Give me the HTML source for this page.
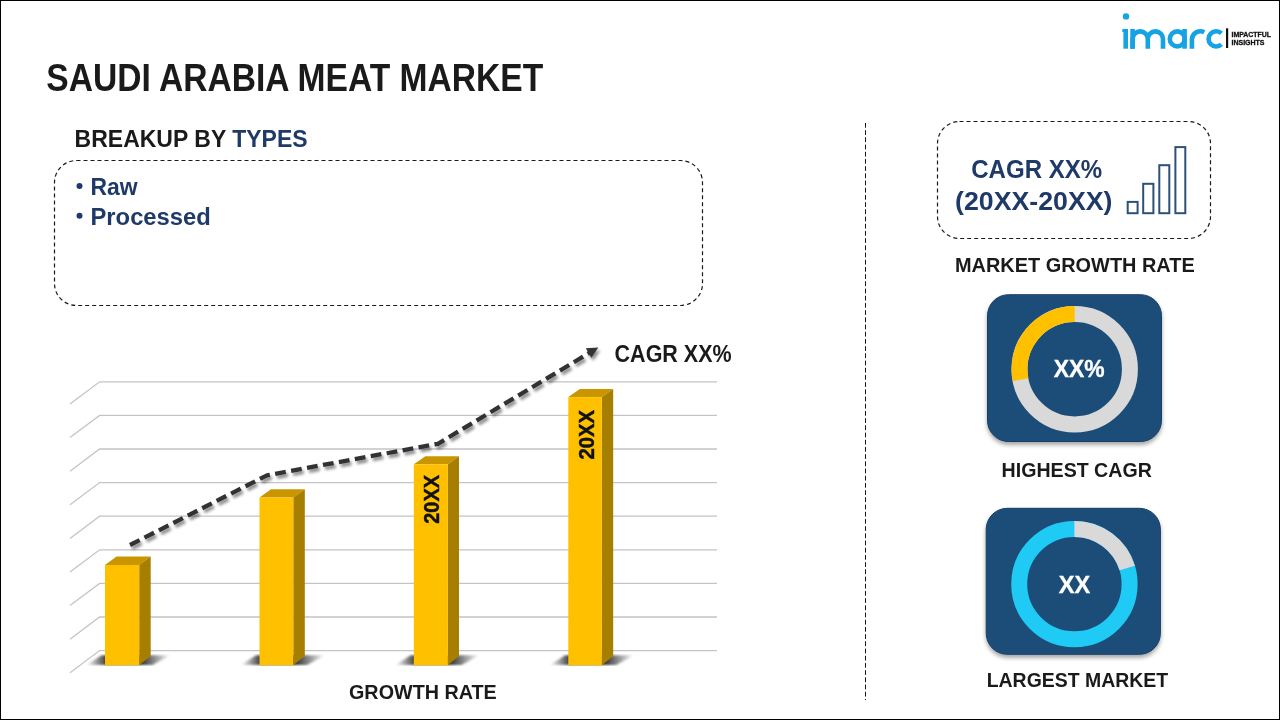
<!DOCTYPE html>
<html><head><meta charset="utf-8">
<style>
html,body{margin:0;padding:0;background:#fff;}
body{width:1280px;height:720px;overflow:hidden;position:relative;}
svg{position:absolute;left:0;top:0;display:block;will-change:transform;}
text{font-family:"Liberation Sans",sans-serif;font-weight:bold;}
</style></head>
<body>
<svg width="1280" height="720" viewBox="0 0 1280 720">
<defs>
  <filter id="lsh" x="-10%" y="-30%" width="130%" height="160%">
    <feGaussianBlur in="SourceAlpha" stdDeviation="1.8"/>
    <feOffset dx="1.5" dy="3" result="o"/>
    <feComponentTransfer><feFuncA type="linear" slope="0.45"/></feComponentTransfer>
    <feMerge><feMergeNode/><feMergeNode in="SourceGraphic"/></feMerge>
  </filter>
  <filter id="bsh" x="-20%" y="-20%" width="140%" height="150%">
    <feGaussianBlur in="SourceAlpha" stdDeviation="2"/>
    <feOffset dx="0" dy="3"/>
    <feComponentTransfer><feFuncA type="linear" slope="0.35"/></feComponentTransfer>
    <feMerge><feMergeNode/><feMergeNode in="SourceGraphic"/></feMerge>
  </filter>
  <filter id="blur1"><feGaussianBlur stdDeviation="1"/></filter>
  <linearGradient id="shg" x1="0" x2="1" y1="0" y2="0">
    <stop offset="0" stop-color="#303030" stop-opacity="0"/>
    <stop offset="0.25" stop-color="#303030" stop-opacity="1"/>
    <stop offset="0.65" stop-color="#303030" stop-opacity="1"/>
    <stop offset="1" stop-color="#303030" stop-opacity="0"/>
  </linearGradient>
</defs>

<!-- frame -->
<rect x="0.5" y="0.5" width="1279" height="719" fill="none" stroke="#000" stroke-width="1"/>

<!-- logo -->
<g fill="none" stroke="#16a3e3" stroke-width="4.6">
  <circle cx="1126" cy="16.4" r="3.2" fill="#16a3e3" stroke="none"/>
  <path d="M1125.7 29 V48.7"/>
  <path d="M1132.6 48.7 V39 A7.6 7.6 0 0 1 1147.8 39 V48.7 M1147.8 39 A7.6 7.6 0 0 1 1163 39 V48.7"/>
  <path d="M1132.6 48.7 V29"/>
  <circle cx="1177.3" cy="38.9" r="7.5"/>
  <path d="M1184.6 29 V48.7"/>
  <path d="M1191.9 48.7 V39 A8.6 8.6 0 0 1 1204.3 32.2"/>
  <path d="M1221.4 33.4 A7.6 7.6 0 1 0 1221.4 44.4"/>
</g>
<rect x="1122.3" y="29" width="4" height="3" fill="#16a3e3"/>
<rect x="1226" y="28.3" width="2.2" height="19.7" fill="#111"/>
<text x="1231.5" y="36.6" font-size="7" fill="#111" stroke="#111" stroke-width="0.3" textLength="39.5" lengthAdjust="spacingAndGlyphs">IMPACTFUL</text>
<text x="1231.5" y="44.7" font-size="7" fill="#111" stroke="#111" stroke-width="0.3" textLength="33" lengthAdjust="spacingAndGlyphs">INSIGHTS</text>

<!-- title -->
<text x="46.3" y="90.6" font-size="38" fill="#1a1a1a" textLength="497" lengthAdjust="spacingAndGlyphs">SAUDI ARABIA MEAT MARKET</text>

<!-- breakup -->
<text x="74.6" y="147.3" font-size="24.6" fill="#1a1a1a" textLength="233" lengthAdjust="spacingAndGlyphs">BREAKUP BY <tspan fill="#1f3a68">TYPES</tspan></text>
<rect x="54.5" y="160.5" width="648" height="145" rx="22" ry="22" fill="none" stroke="#1a1a1a" stroke-width="1.2" stroke-dasharray="4 3"/>
<circle cx="79.5" cy="185.9" r="3" fill="#1f3a68"/>
<circle cx="79.5" cy="215.8" r="3" fill="#1f3a68"/>
<text x="90.4" y="194.7" font-size="24.2" fill="#1f3a68" textLength="47.1" lengthAdjust="spacingAndGlyphs">Raw</text>
<text x="90.5" y="224.5" font-size="24.2" fill="#1f3a68" textLength="120.3" lengthAdjust="spacingAndGlyphs">Processed</text>

<!-- divider -->
<line x1="865.5" y1="123" x2="865.5" y2="700" stroke="#111" stroke-width="1" stroke-dasharray="4.7 2.5"/>

<!-- chart gridlines -->
<g stroke="#c4c4c4" stroke-width="1.3" fill="none">
  <path d="M70 404 L99.6 381.8 H717"/>
  <path d="M70 437.6 L99.6 415.4 H717"/>
  <path d="M70 471.2 L99.6 449 H717"/>
  <path d="M70 504.8 L99.6 482.6 H717"/>
  <path d="M70 538.4 L99.6 516.2 H717"/>
  <path d="M70 572 L99.6 549.8 H717"/>
  <path d="M70 605.6 L99.6 583.4 H717"/>
  <path d="M70 639.2 L99.6 617 H717"/>
  <path d="M70 672.8 L99.6 650.6 H717"/>
</g>

<!-- bar shadows -->
<g filter="url(#blur1)">
  <polygon points="86.5,665 101.5,655.3 170.5,655.3 152.5,665" fill="url(#shg)"/>
  <polygon points="241,665 256,655.3 325,655.3 307,665" fill="url(#shg)"/>
  <polygon points="395.5,665 410.5,655.3 479.5,655.3 461.5,665" fill="url(#shg)"/>
  <polygon points="550,665 565,655.3 634,655.3 616,665" fill="url(#shg)"/>
</g>

<!-- bars -->
<g id="bars">
  <!-- bar1 -->
  <polygon points="105,565 116.5,556.5 150.7,556.5 139.2,565" fill="#c99600"/>
  <polygon points="139.2,565 150.7,556.5 150.7,656 139.2,665.3" fill="#a67e00"/>
  <rect x="105" y="565" width="34.2" height="100.3" fill="#ffc000"/>
  <!-- bar2 -->
  <polygon points="259.5,497.5 271,489.3 304.8,489.3 293.3,497.5" fill="#c99600"/>
  <polygon points="293.3,497.5 304.8,489.3 304.8,656 293.3,665.3" fill="#a67e00"/>
  <rect x="259.5" y="497.5" width="33.8" height="167.8" fill="#ffc000"/>
  <!-- bar3 -->
  <polygon points="413.8,464.3 425.3,456.2 459,456.2 447.9,464.3" fill="#c99600"/>
  <polygon points="447.9,464.3 459,456.2 459,656 447.9,665.3" fill="#a67e00"/>
  <rect x="413.8" y="464.3" width="34.1" height="201" fill="#ffc000"/>
  <!-- bar4 -->
  <polygon points="568.3,397.1 579.8,389 613.2,389 601.9,397.1" fill="#c99600"/>
  <polygon points="601.9,397.1 613.2,389 613.2,656 601.9,665.3" fill="#a67e00"/>
  <rect x="568.3" y="397.1" width="33.6" height="268.2" fill="#ffc000"/>
</g>
<text transform="translate(439.3,523.8) rotate(-90)" font-size="21.2" fill="#111" stroke="#111" stroke-width="0.45" textLength="49" lengthAdjust="spacingAndGlyphs">20XX</text>
<text transform="translate(593.9,459.4) rotate(-90)" font-size="21.2" fill="#111" stroke="#111" stroke-width="0.45" textLength="49.4" lengthAdjust="spacingAndGlyphs">20XX</text>

<!-- trend line -->
<g filter="url(#lsh)">
  <polyline points="130,545 267,475.3 437.9,443.8 590,352.5" fill="none" stroke="#333" stroke-width="4.3" stroke-dasharray="10.8 5.4" stroke-linejoin="round"/>
  <polygon points="585.8,348.2 598.3,347.5 591.4,357.8" fill="#333"/>
</g>
<text x="614.6" y="361.9" font-size="23.5" fill="#1a1a1a" textLength="117" lengthAdjust="spacingAndGlyphs">CAGR XX%</text>
<text x="349" y="699" font-size="21" fill="#1a1a1a" textLength="147.8" lengthAdjust="spacingAndGlyphs">GROWTH RATE</text>

<!-- right panel -->
<rect x="937.5" y="121.5" width="273" height="117" rx="22" ry="22" fill="none" stroke="#1a1a1a" stroke-width="1.2" stroke-dasharray="4 3"/>
<text x="971.2" y="177.7" font-size="25.5" fill="#1f3a68" textLength="131" lengthAdjust="spacingAndGlyphs">CAGR XX%</text>
<text x="955" y="209.5" font-size="25.5" fill="#1f3a68" textLength="157.5" lengthAdjust="spacingAndGlyphs">(20XX-20XX)</text>
<g fill="none" stroke="#2d5078" stroke-width="2">
  <rect x="1127.7" y="201.9" width="9.9" height="11.3"/>
  <rect x="1143.2" y="183.8" width="10.2" height="29.4"/>
  <rect x="1159.3" y="165.2" width="10" height="48"/>
  <rect x="1175.4" y="147.1" width="9.9" height="66.1"/>
</g>
<text x="955" y="271.8" font-size="21" fill="#1a1a1a" textLength="239.7" lengthAdjust="spacingAndGlyphs">MARKET GROWTH RATE</text>

<!-- highest cagr box -->
<rect x="987.5" y="294.7" width="174" height="146.8" rx="21" ry="21" fill="#1f4e79" stroke="#183f64" stroke-width="1" filter="url(#bsh)"/>
<circle cx="1074.7" cy="369.2" r="55.2" fill="none" stroke="#d9d9d9" stroke-width="16"/>
<path d="M1074.7 314 A55.2 55.2 0 0 0 1020.5 379.7" fill="none" stroke="#ffc000" stroke-width="16"/>
<text x="1053.8" y="376.8" font-size="24" fill="#fff" stroke="#fff" stroke-width="0.35" textLength="50.9" lengthAdjust="spacingAndGlyphs">XX%</text>
<text x="1001.6" y="476.7" font-size="20.2" fill="#1a1a1a" textLength="150.2" lengthAdjust="spacingAndGlyphs">HIGHEST CAGR</text>

<!-- largest market box -->
<rect x="986.2" y="508.3" width="174.2" height="146" rx="21" ry="21" fill="#1f4e79" stroke="#183f64" stroke-width="1" filter="url(#bsh)"/>
<circle cx="1074.4" cy="584.1" r="55.2" fill="none" stroke="#1fcbf5" stroke-width="16"/>
<path d="M1074.4 528.9 A55.2 55.2 0 0 1 1127.2 568" fill="none" stroke="#d9d9d9" stroke-width="16"/>
<text x="1058.8" y="593" font-size="24" fill="#fff" stroke="#fff" stroke-width="0.35" textLength="31.4" lengthAdjust="spacingAndGlyphs">XX</text>
<text x="986.7" y="686.6" font-size="20.2" fill="#1a1a1a" textLength="181.5" lengthAdjust="spacingAndGlyphs">LARGEST MARKET</text>
</svg>
</body></html>
